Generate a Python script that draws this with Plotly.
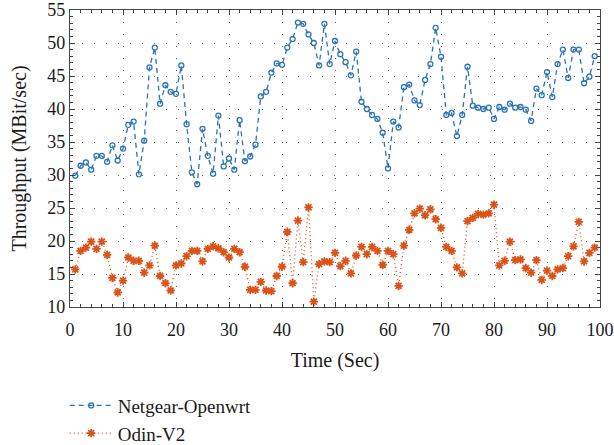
import plotly.graph_objects as go

time_sec = list(range(1, 100))
netgear_openwrt = [
    29.9, 31.4, 31.9, 30.8, 32.9, 32.9, 32.0, 34.5, 32.2, 34.0,
    37.6, 38.1, 30.1, 35.2, 46.3, 49.3, 40.8, 43.6, 42.6, 42.3,
    46.6, 37.7, 30.4, 28.6, 37.0, 32.9, 30.2, 39.0, 31.3, 32.5,
    30.8, 38.3, 32.1, 32.8, 34.6, 41.9, 42.6, 45.5, 46.9, 46.7,
    49.3, 50.6, 53.1, 52.9, 51.3, 50.0, 46.6, 52.9, 46.8, 50.3,
    48.3, 47.1, 45.1, 48.7, 41.1, 40.0, 39.1, 38.5, 36.4, 31.0,
    38.1, 37.2, 43.3, 43.7, 41.3, 40.6, 44.4, 46.8, 52.3, 47.9,
    39.1, 39.4, 35.9, 39.1, 46.4, 40.5, 40.2, 40.0, 40.2, 38.5,
    40.3, 39.9, 40.8, 40.2, 40.3, 39.9, 38.2, 43.1, 42.1, 45.6,
    41.8, 46.8, 49.0, 44.7, 49.0, 49.0, 43.9, 44.9, 48.0,
]
odin_v2 = [
    15.7, 18.5, 19.0, 19.9, 18.8, 19.9, 17.9, 14.4, 12.2, 14.0,
    17.5, 17.0, 17.0, 15.2, 16.3, 19.3, 14.7, 13.6, 12.5, 16.3,
    16.6, 17.7, 18.5, 18.5, 16.9, 18.8, 19.2, 18.9, 18.3, 17.5,
    18.8, 18.3, 16.1, 12.6, 12.6, 13.8, 12.5, 12.4, 14.7, 16.1,
    21.4, 13.6, 23.1, 16.8, 25.1, 10.8, 16.5, 16.9, 16.8, 18.2,
    16.2, 17.0, 15.1, 17.8, 19.1, 18.0, 19.1, 18.5, 16.4, 18.5,
    18.0, 13.2, 19.3, 21.7, 24.2, 24.9, 23.9, 24.8, 23.3, 22.0,
    19.1, 18.5, 16.0, 15.1, 23.0, 23.5, 24.1, 24.0, 24.2, 25.5,
    16.3, 17.0, 19.9, 17.1, 17.2, 15.9, 15.2, 17.1, 14.1, 15.5,
    14.7, 15.7, 15.9, 17.7, 19.2, 22.9, 16.9, 18.2, 19.0,
]
x_ticks = list(range(0, 101, 10))
y_ticks = list(range(10, 56, 5))

blue = "#2a72b8"
orange = "#d95319"
font_family = "Liberation Serif, DejaVu Serif, serif"
text_color = "#1a1a1a"

fig = go.Figure()
fig.add_trace(go.Scatter(
    x=time_sec, y=netgear_openwrt, mode="lines+markers", name="Netgear-Openwrt",
    line=dict(color=blue, width=1.3, dash="5px,4px"),
    marker=dict(symbol="circle-open", size=5, color=blue, line=dict(width=1.3, color=blue)),
    legendgroup="a",
))
fig.add_trace(go.Scatter(
    x=time_sec, y=odin_v2, mode="lines+markers", name="Odin-V2",
    line=dict(color=orange, width=1.3, dash="1px,3px"),
    marker=dict(symbol="asterisk-open", size=7, color=orange, line=dict(width=1.8, color=orange)),
    legendgroup="b",
))

axis_common = dict(
    showline=True, linecolor="#444", linewidth=1.2, mirror="ticks",
    ticks="inside", ticklen=5, tickcolor="#444", tickwidth=1,
    showgrid=True, gridcolor="#666", gridwidth=1, griddash="1px,11px",
    zeroline=False, automargin=False,
    tickfont=dict(family=font_family, size=18, color=text_color),
    title_font=dict(family=font_family, size=20, color=text_color),
)

fig.update_xaxes(
    range=[0, 100], tickvals=x_ticks, title_text="Time (Sec)", title_standoff=14,
    ticklabelstandoff=6,
    minor=dict(ticks="inside", ticklen=3, dtick=2, tickcolor="#444", showgrid=False),
    **axis_common,
)
fig.update_yaxes(
    range=[10, 55], tickvals=y_ticks, title_text="Throughput (MBit/sec)", title_standoff=15,
    minor=dict(ticks="inside", ticklen=3, dtick=1, tickcolor="#444", showgrid=False),
    **axis_common,
)

fig.update_layout(
    width=614, height=445,
    margin=dict(l=70, r=14, t=10, b=138, autoexpand=False),
    plot_bgcolor="white", paper_bgcolor="white",
    font=dict(family=font_family, size=20, color=text_color),
    showlegend=True,
    legend=dict(
        x=-0.01, y=-0.268, xanchor="left", yanchor="top",
        orientation="v", tracegroupgap=0, itemwidth=43,
        font=dict(family=font_family, size=19, color=text_color),
        bgcolor="rgba(0,0,0,0)",
    ),
)

fig.write_html("out.html")
